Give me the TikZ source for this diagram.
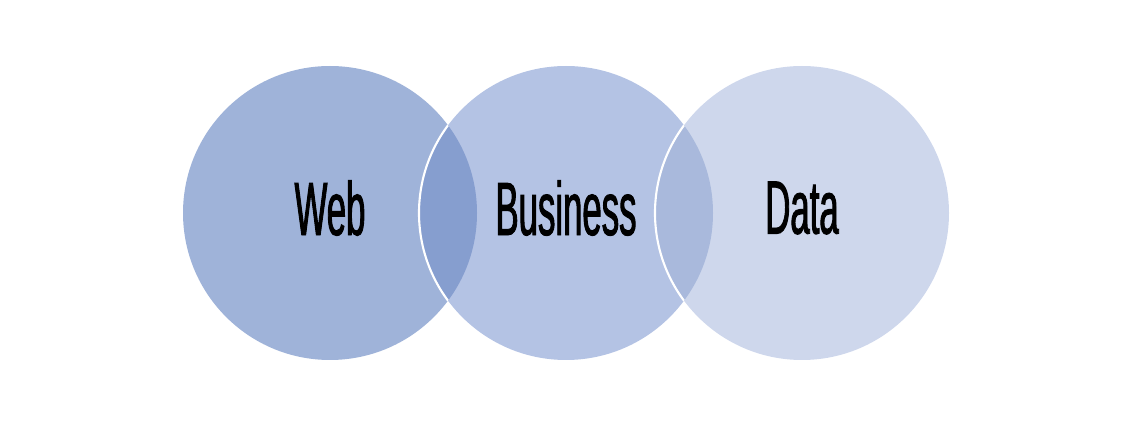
\documentclass[tikz,border=0pt]{standalone}
\usepackage{fontspec}
\newfontfamily\vennfont[FakeStretch=0.46,FakeBold=1.2]{Liberation Sans}
\definecolor{webblue}{HTML}{9FB3D9}
\definecolor{busblue}{HTML}{B4C3E4}
\definecolor{datablue}{HTML}{CED7EC}
\definecolor{webbus}{HTML}{869ECF}
\definecolor{busdata}{HTML}{A9B9DC}

\begin{document}
\begin{tikzpicture}[venn/.style={circle, minimum size=2.94cm, inner sep=0pt,
    font=\vennfont\fontsize{21.5}{24}\selectfont},
  vennlabel/.style={venn, yshift=0.05cm}]
  \useasboundingbox (0,0) rectangle (11.31,4.27);
  \node[venn, fill=webblue] (web) at (3.30,2.14) {};
  \node[venn, fill=busblue] (business) at (5.66,2.14) {};
  \node[venn, fill=datablue] (data) at (8.02,2.14) {};
  % overlaps
  \begin{scope}
    \clip (web.center) circle (1.47);
    \fill[webbus] (business.center) circle (1.47);
    \draw[white, line width=0.6pt] (business.center) circle (1.47);
  \end{scope}
  \begin{scope}
    \clip (business.center) circle (1.47);
    \fill[busdata] (data.center) circle (1.47);
    \draw[white, line width=0.6pt] (data.center) circle (1.47);
  \end{scope}
  \node[vennlabel] (weblabel) at (web.center) {Web};
  \node[vennlabel] (buslabel) at (business.center) {Business};
  \node[vennlabel] (datalabel) at (data.center) {Data};
\end{tikzpicture}
\end{document}
